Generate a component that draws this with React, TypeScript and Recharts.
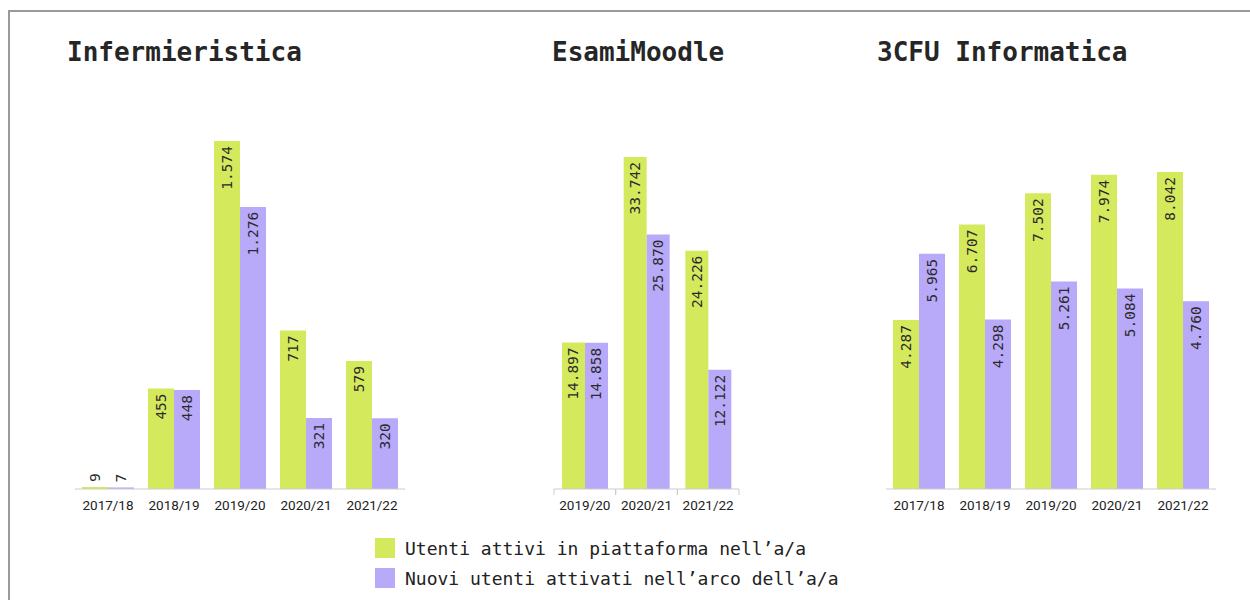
import { Bar, BarChart, LabelList, XAxis, YAxis } from 'recharts'

// Academic years and per-project user counts (Italian thousands separator in labels)
const YEARS_FULL = ['2017/18', '2018/19', '2019/20', '2020/21', '2021/22']
const YEARS_MOODLE = ['2019/20', '2020/21', '2021/22']

const INF_ACTIVE = [9, 455, 1574, 717, 579]
const INF_NEW = [7, 448, 1276, 321, 320]

const MOODLE_ACTIVE = [14897, 33742, 24226]
const MOODLE_NEW = [14858, 25870, 12122]

const CFU_ACTIVE = [4287, 6707, 7502, 7974, 8042]
const CFU_NEW = [5965, 4298, 5261, 5084, 4760]

const SERIES = [
  { key: 'active', name: 'Utenti attivi in piattaforma nell’a/a', color: '#d5e95d' },
  { key: 'new', name: 'Nuovi utenti attivati nell’arco dell’a/a', color: '#b8a9f9' },
]

const MONO = '"DejaVu Sans Mono", "Liberation Mono", monospace'
const SANS = 'Roboto, "Noto Sans", sans-serif'
const LABEL_SIZE = 14.5

const fmt = (v: number) => String(v).replace(/\B(?=(\d{3})+(?!\d))/g, '.')

const toRows = (years: string[], active: number[], fresh: number[]) =>
  years.map((year, i) => ({ year, active: active[i], new: fresh[i] }))

function ValueLabel(props: any) {
  const { x, y, width, height, value } = props
  const text = fmt(Number(value))
  const cx = x + width / 2
  const need = text.length * LABEL_SIZE * 0.6 + 10
  const inside = height > need
  const ay = inside ? y + 5 : y - 5
  return (
    <text
      x={cx}
      y={ay}
      transform={`rotate(-90 ${cx} ${ay})`}
      textAnchor={inside ? 'end' : 'start'}
      dominantBaseline="central"
      fontFamily={MONO}
      fontSize={LABEL_SIZE}
      fill="#2a2a2a"
    >
      {text}
    </text>
  )
}

function YearTick(props: any) {
  const { x, y, payload, bounds } = props
  const half = payload?.offset ?? 30
  return (
    <g>
      {bounds && (
        <>
          <line x1={x - half} x2={x - half} y1={y - 8} y2={y - 2} stroke="#ccc" />
          <line x1={x + half} x2={x + half} y1={y - 8} y2={y - 2} stroke="#ccc" />
        </>
      )}
      <text x={x} y={y} dy={13} textAnchor="middle" fontFamily={SANS} fontSize={13.5} fill="#222">
        {payload.value}
      </text>
    </g>
  )
}

type PanelProps = {
  title: string
  data: { year: string; active: number; new: number }[]
  left: number
  width: number
  marginLeft: number
  marginTop: number
  barSize: number
  titleLeft: number
  bounds?: boolean
}

function Panel({ title, data, left, width, marginLeft, marginTop, barSize, titleLeft, bounds }: PanelProps) {
  return (
    <>
      <div
        style={{
          position: 'absolute',
          left: titleLeft,
          top: 39,
          fontFamily: MONO,
          fontWeight: 'bold',
          fontSize: 26,
          lineHeight: '26px',
          color: '#262626',
          whiteSpace: 'nowrap',
        }}
      >
        {title}
      </div>
      <div style={{ position: 'absolute', left, top: 120 }}>
        <BarChart
          width={width}
          height={404}
          data={data}
          barGap={0}
          margin={{ top: marginTop, right: 10, left: marginLeft, bottom: 5 }}
        >
          <XAxis
            dataKey="year"
            height={30}
            interval={0}
            tickLine={false}
            axisLine={{ stroke: '#ccc' }}
            tick={<YearTick bounds={bounds} />}
          />
          <YAxis hide domain={[0, 'dataMax']} />
          {SERIES.map((s) => (
            <Bar key={s.key} dataKey={s.key} fill={s.color} barSize={barSize} isAnimationActive={false}>
              <LabelList dataKey={s.key} content={<ValueLabel />} />
            </Bar>
          ))}
        </BarChart>
      </div>
    </>
  )
}

export default function App() {
  return (
    <div style={{ position: 'absolute', left: 0, top: 0, width: 1250, height: 600, background: '#fff', overflow: 'hidden' }}>
      <div
        style={{
          position: 'absolute',
          left: 8,
          top: 10,
          width: 1242,
          height: 590,
          borderTop: '2px solid #9a9a9a',
          borderLeft: '2px solid #9a9a9a',
          boxSizing: 'border-box',
        }}
      />
      <Panel
        title="Infermieristica"
        data={toRows(YEARS_FULL, INF_ACTIVE, INF_NEW)}
        left={60}
        width={355}
        marginLeft={15}
        marginTop={21}
        barSize={26}
        titleLeft={67}
      />
      <Panel
        title="EsamiMoodle"
        data={toRows(YEARS_MOODLE, MOODLE_ACTIVE, MOODLE_NEW)}
        left={540}
        width={209}
        marginLeft={14}
        marginTop={37}
        barSize={23}
        titleLeft={552}
        bounds
      />
      <Panel
        title="3CFU Informatica"
        data={toRows(YEARS_FULL, CFU_ACTIVE, CFU_NEW)}
        left={870}
        width={356}
        marginLeft={16}
        marginTop={52}
        barSize={26}
        titleLeft={877}
      />
      {SERIES.map((s, i) => (
        <div
          key={s.key}
          style={{ position: 'absolute', left: 375, top: 538 + i * 30, display: 'flex', alignItems: 'center', height: 20 }}
        >
          <div style={{ width: 20, height: 20, background: s.color }} />
          <span style={{ marginLeft: 10, fontFamily: MONO, fontSize: 18, color: '#222', whiteSpace: 'nowrap' }}>
            {s.name}
          </span>
        </div>
      ))}
    </div>
  )
}
